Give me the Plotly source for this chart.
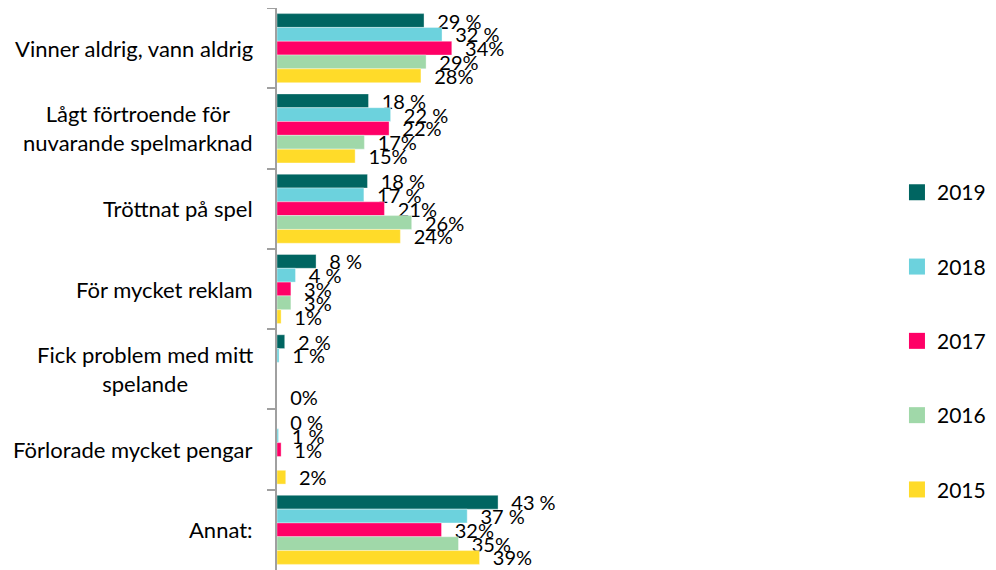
import plotly.graph_objects as go

categories = [
    "Vinner aldrig, vann aldrig",
    "Lågt förtroende för<br>nuvarande spelmarknad",
    "Tröttnat på spel",
    "För mycket reklam",
    "Fick problem med mitt<br>spelande",
    "Förlorade mycket pengar",
    "Annat:",
]

years = ["2019", "2018", "2017", "2016", "2015"]

v2019 = [28.6, 17.8, 17.6, 7.6, 1.5, 0.0, 43.0]
v2018 = [32.1, 22.1, 16.9, 3.6, 0.4, 0.3, 37.0]
v2017 = [34.0, 21.8, 20.9, 2.7, None, 0.8, 32.0]
v2016 = [29.0, 17.0, 26.2, 2.7, None, None, 35.3]
v2015 = [28.0, 15.2, 24.0, 0.8, 0.0, 1.7, 39.4]

t2019 = ["29 %", "18 %", "18 %", "8 %", "2 %", "0 %", "43 %"]
t2018 = ["32 %", "22 %", "17 %", "4 %", "1 %", "1 %", "37 %"]
t2017 = ["34%", "22%", "21%", "3%", "", "1%", "32%"]
t2016 = ["29%", "17%", "26%", "3%", "", "", "35%"]
t2015 = ["28%", "15%", "24%", "1%", "0%", "2%", "39%"]

colors = ["#006561", "#6CD2DD", "#FF0066", "#A0D8A9", "#FFDB29"]

series = [v2019, v2018, v2017, v2016, v2015]
texts = [t2019, t2018, t2017, t2016, t2015]

FONT = "Lato"

fig = go.Figure()
for i, (yr, vals, txt, col) in enumerate(zip(years, series, texts, colors)):
    fig.add_trace(go.Bar(
        y=categories, x=vals, orientation="h", name=yr,
        marker=dict(color=col, line=dict(color="rgba(255,255,255,0.6)", width=0.6)),
        text=txt, texttemplate="\u00a0\u00a0%{text}",
        textposition="outside", constraintext="none", cliponaxis=False,
        textfont=dict(family=FONT, size=20, color="#000000"),
        legendgroup=yr, showlegend=False,
        hoverinfo="skip",
    ))
    # legend-only proxy with a larger square swatch
    fig.add_trace(go.Scatter(
        x=[None], y=[None], mode="markers", name=yr,
        marker=dict(symbol="square", size=16, color=col),
        legendgroup=yr, showlegend=True, hoverinfo="skip",
    ))

annotations = []
for c in categories:
    annotations.append(dict(
        x=0, xref="paper", y=c, yref="y", text=c, showarrow=False,
        xanchor="right", align="center", xshift=-22,
        font=dict(family=FONT, size=22, color="#000000"),
    ))

# The page body has an 8px default margin, so the figure is sized to fill
# the remaining 988x562 of the 996x570 window.
fig.update_layout(
    width=988, height=562,
    margin=dict(l=269, r=0, t=0, b=0, autoexpand=False),
    plot_bgcolor="white", paper_bgcolor="white",
    barmode="group", bargap=0.14, bargroupgap=0.0,
    showlegend=True,
    legend=dict(
        x=0.993, xanchor="right", y=0.708, yanchor="top",
        traceorder="grouped", tracegroupgap=44, itemsizing="trace",
        font=dict(family=FONT, size=21, color="#000000"),
        bgcolor="rgba(0,0,0,0)",
    ),
    annotations=annotations,
    font=dict(family=FONT),
)
fig.update_xaxes(range=[0, 100], domain=[0, 0.715], showgrid=False, automargin=False,
                 zeroline=False, showline=False, showticklabels=False, ticks="")
fig.update_yaxes(autorange="reversed", showgrid=False, showline=True, automargin=False,
                 linecolor="#A0A0A0", linewidth=2, ticks="outside",
                 tickson="boundaries", ticklen=8, tickcolor="#A0A0A0",
                 tickwidth=2, showticklabels=False, zeroline=False)

fig.write_html("out.html")
